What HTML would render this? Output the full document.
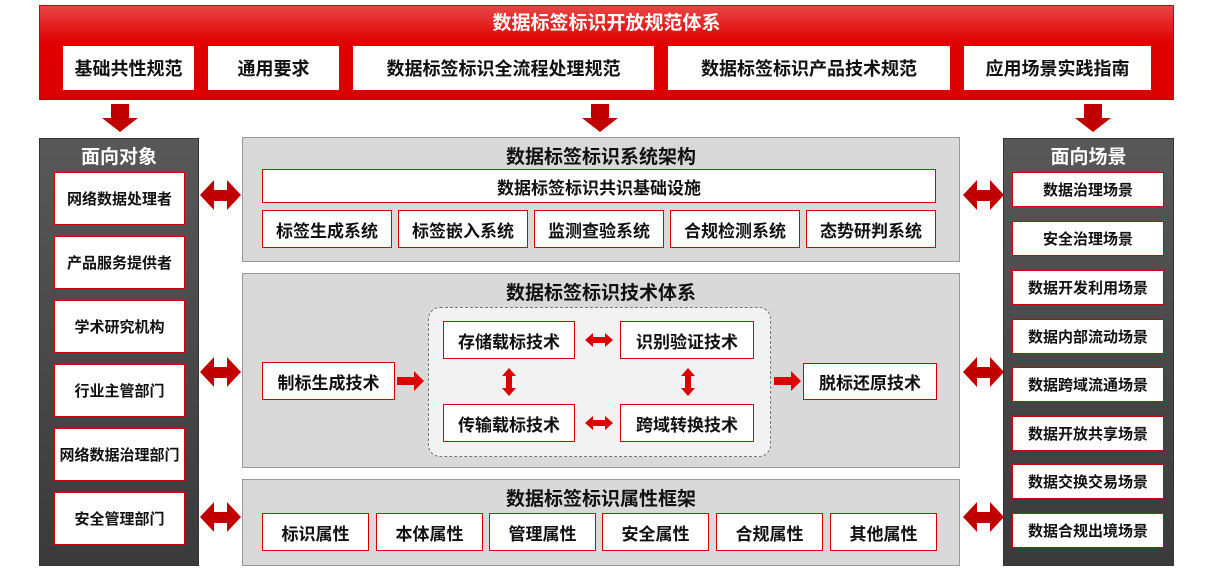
<!DOCTYPE html>
<html><head><meta charset="utf-8"><style>
*{margin:0;padding:0;box-sizing:border-box}
body{width:1205px;height:569px;background:#fff;position:relative;overflow:hidden;font-family:"Liberation Sans","Noto Sans CJK SC",sans-serif;font-weight:bold}
.a{position:absolute}
.b{position:absolute;background:#fff;border:1.5px solid #d00000;display:flex;align-items:center;justify-content:center;color:#111;font-size:17px;white-space:nowrap}
.w{position:absolute;background:#fff;display:flex;align-items:center;justify-content:center;color:#111;font-size:18px;white-space:nowrap}
.sec{position:absolute;background:#d9d9d9;border:1.5px solid #999}
.t{position:absolute;left:0;right:0;text-align:center;font-size:19px;color:#111}
.pan{position:absolute;background:linear-gradient(#585858,#3a3a3a);border:1px solid #333}
.pt{position:absolute;left:0;right:0;text-align:center;font-size:19px;color:#fff;top:3px}
.s{font-size:15px}
</style></head><body>
<div class="a" style="left:39px;top:5px;width:1135px;height:95px;background:linear-gradient(#e84545,#e00000 40%,#dc0000);border:1px solid #c00"></div>
<div class="a" style="left:39px;top:8px;width:1135px;text-align:center;color:#fff;font-size:19px">数据标签标识开放规范体系</div>
<div class="w" style="left:63px;top:46px;width:131px;height:44px">基础共性规范</div>
<div class="w" style="left:208px;top:46px;width:131px;height:44px">通用要求</div>
<div class="w" style="left:353px;top:46px;width:301px;height:44px">数据标签标识全流程处理规范</div>
<div class="w" style="left:668px;top:46px;width:282px;height:44px">数据标签标识产品技术规范</div>
<div class="w" style="left:964px;top:46px;width:187px;height:44px">应用场景实践指南</div>

<svg class="a" style="left:0;top:0" width="1205" height="569">
<g fill="#c00000">
<polygon points="111,104 129,104 129,118 138,118 120,132 102,118 111,118"/>
<polygon points="591,104 609,104 609,118 618,118 600,132 582,118 591,118"/>
<polygon points="1084,104 1102,104 1102,118 1111,118 1093,132 1075,118 1084,118"/>
<g id="da"><polygon points="200,195 214,180 214,190 227,190 227,180 241,195 227,210 227,201 214,201 214,210"/></g>
<use href="#da" y="177"/><use href="#da" y="322"/>
<use href="#da" x="763"/><use href="#da" x="763" y="177"/><use href="#da" x="763" y="322"/>
</g>
</svg>

<div class="pan" style="left:39px;top:138px;width:160px;height:428px"><div class="pt">面向对象</div></div>
<div class="b s" style="left:54px;top:172px;width:131px;height:53px">网络数据处理者</div>
<div class="b s" style="left:54px;top:236px;width:131px;height:53px">产品服务提供者</div>
<div class="b s" style="left:54px;top:300px;width:131px;height:53px">学术研究机构</div>
<div class="b s" style="left:54px;top:364px;width:131px;height:53px">行业主管部门</div>
<div class="b s" style="left:54px;top:428px;width:131px;height:53px">网络数据治理部门</div>
<div class="b s" style="left:54px;top:492px;width:131px;height:53px">安全管理部门</div>

<div class="pan" style="left:1003px;top:138px;width:171px;height:428px"><div class="pt">面向场景</div></div>
<div class="b s" style="left:1012px;top:172px;width:152px;height:35px">数据治理场景</div>
<div class="b s" style="left:1012px;top:221px;width:152px;height:35px">安全治理场景</div>
<div class="b s" style="left:1012px;top:270px;width:152px;height:35px">数据开发利用场景</div>
<div class="b s" style="left:1012px;top:319px;width:152px;height:35px">数据内部流动场景</div>
<div class="b s" style="left:1012px;top:367px;width:152px;height:35px">数据跨域流通场景</div>
<div class="b s" style="left:1012px;top:416px;width:152px;height:35px">数据开放共享场景</div>
<div class="b s" style="left:1012px;top:464px;width:152px;height:35px">数据交换交易场景</div>
<div class="b s" style="left:1012px;top:513px;width:152px;height:35px">数据合规出境场景</div>

<div class="sec" style="left:242px;top:137px;width:718px;height:125px"><div class="t" style="top:4px">数据标签标识系统架构</div></div>
<div class="b" style="left:262px;top:169px;width:674px;height:34px">数据标签标识共识基础设施</div>
<div class="b" style="left:262px;top:210px;width:130px;height:38px">标签生成系统</div>
<div class="b" style="left:398px;top:210px;width:130px;height:38px">标签嵌入系统</div>
<div class="b" style="left:534px;top:210px;width:130px;height:38px">监测查验系统</div>
<div class="b" style="left:670px;top:210px;width:130px;height:38px">合规检测系统</div>
<div class="b" style="left:806px;top:210px;width:130px;height:38px">态势研判系统</div>

<div class="sec" style="left:242px;top:273px;width:718px;height:195px"><div class="t" style="top:4px">数据标签标识技术体系</div></div>
<div class="a" style="left:428px;top:307px;width:343px;height:150px;background:#f2f2f2;border:1.5px dashed #777;border-radius:12px"></div>
<div class="b" style="left:262px;top:362px;width:133px;height:38px">制标生成技术</div>
<div class="b" style="left:443px;top:321px;width:132px;height:38px">存储载标技术</div>
<div class="b" style="left:620px;top:321px;width:134px;height:38px">识别验证技术</div>
<div class="b" style="left:443px;top:404px;width:132px;height:38px">传输载标技术</div>
<div class="b" style="left:620px;top:404px;width:134px;height:38px">跨域转换技术</div>
<div class="b" style="left:803px;top:363px;width:134px;height:37px">脱标还原技术</div>
<svg class="a" style="left:0;top:0" width="1205" height="569">
<g fill="#dd0000">
<polygon points="397,377 414,377 414,371 424,381 414,391 414,385 397,385"/>
<polygon points="774,377 791,377 791,371 801,381 791,391 791,385 774,385"/>
<polygon points="585,340 593,333 593,337 605,337 605,333 613,340 605,347 605,343 593,343 593,347"/>
<polygon points="585,423 593,416 593,420 605,420 605,416 613,423 605,430 605,426 593,426 593,430"/>
<polygon points="509,368 516,376 512,376 512,388 516,388 509,396 502,388 506,388 506,376 502,376"/>
<polygon points="688,368 695,376 691,376 691,388 695,388 688,396 681,388 685,388 685,376 681,376"/>
</g></svg>

<div class="sec" style="left:242px;top:479px;width:718px;height:87px"><div class="t" style="top:4px">数据标签标识属性框架</div></div>
<div class="b" style="left:262px;top:513px;width:107px;height:38px">标识属性</div>
<div class="b" style="left:376px;top:513px;width:107px;height:38px">本体属性</div>
<div class="b" style="left:489px;top:513px;width:107px;height:38px">管理属性</div>
<div class="b" style="left:602px;top:513px;width:107px;height:38px">安全属性</div>
<div class="b" style="left:716px;top:513px;width:107px;height:38px">合规属性</div>
<div class="b" style="left:830px;top:513px;width:107px;height:38px">其他属性</div>
</body></html>
